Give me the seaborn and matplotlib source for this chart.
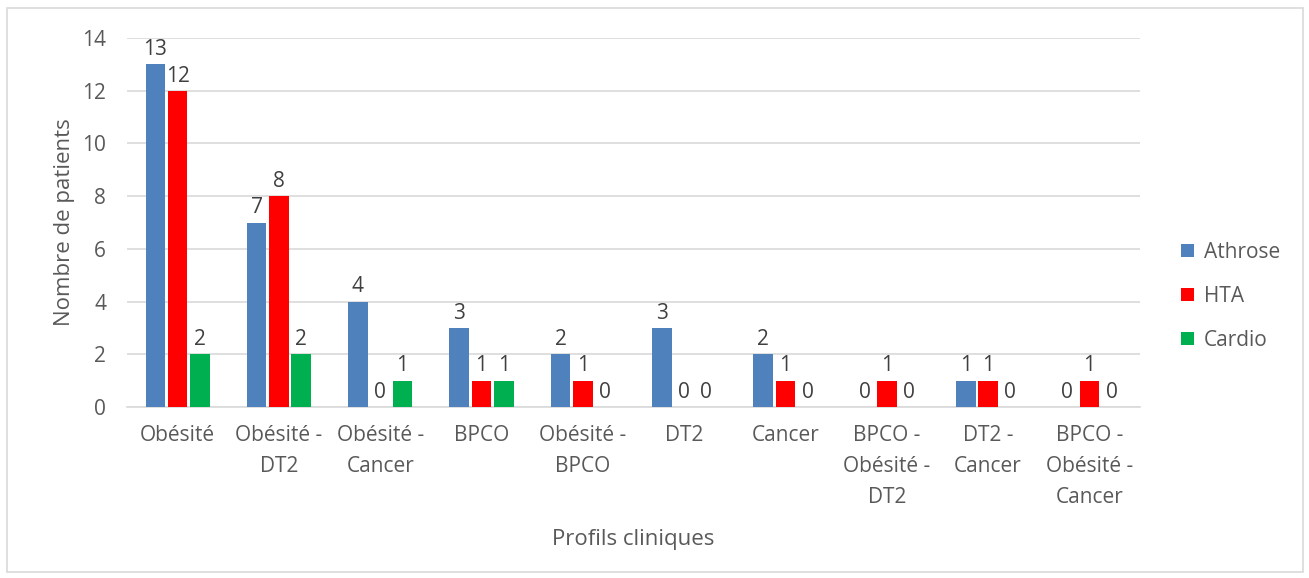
import matplotlib
matplotlib.use("Agg")
import matplotlib.pyplot as plt
import seaborn as sns
import pandas as pd
from matplotlib.patches import Rectangle

categories = ["Obésité", "Obésité -\nDT2", "Obésité -\nCancer", "BPCO", "Obésité -\nBPCO",
              "DT2", "Cancer", "BPCO -\nObésité -\nDT2", "DT2 -\nCancer", "BPCO -\nObésité -\nCancer"]
athrose = [13, 7, 4, 3, 2, 3, 2, 0, 1, 0]
hta = [12, 8, 0, 1, 1, 0, 1, 1, 1, 1]
cardio = [2, 2, 1, 1, 0, 0, 0, 0, 0, 0]
series_names = ["Athrose", "HTA", "Cardio"]
colors = ["#4f81bd", "#ff0000", "#00b050"]

rows = []
for name, vals in zip(series_names, [athrose, hta, cardio]):
    for c, v in zip(categories, vals):
        rows.append({"Profil": c, "Série": name, "Valeur": v})
df = pd.DataFrame(rows)

sns.set_theme(style="white")
plt.rcParams["font.family"] = ["Open Sans", "DejaVu Sans"]
txt = "#595959"

fig = plt.figure(figsize=(13.09, 5.78), dpi=100)
ax = fig.add_axes([127/1309, 1 - 407/578, (1140-127)/1309, (407-38)/578])

sns.barplot(data=df, x="Profil", y="Valeur", hue="Série", order=categories,
            hue_order=series_names, palette=colors, width=0.66, gap=0.12, ax=ax,
            linewidth=0, saturation=1, legend=True, zorder=3)

ax.set_ylim(0, 14)
ax.set_xlim(-0.5, len(categories) - 0.5)
ax.set_yticks(range(0, 15, 2))
ax.yaxis.grid(True, color="#d9d9d9", linewidth=1.2, zorder=0)
ax.set_axisbelow(True)
for s in ["top", "right", "left"]:
    ax.spines[s].set_visible(False)
ax.spines["bottom"].set_color("#d9d9d9")
ax.spines["bottom"].set_linewidth(1.2)
ax.tick_params(axis="both", length=0, labelsize=15, colors=txt)
ax.tick_params(axis="x", pad=13)
ax.tick_params(axis="y", pad=15)
for t in ax.get_xticklabels():
    t.set_linespacing(1.62)
ax.set_xlabel("Profils cliniques", fontsize=16, color=txt, labelpad=15)
ax.set_ylabel("Nombre de patients", fontsize=16, color=txt, labelpad=5)

for cont in ax.containers:
    ax.bar_label(cont, fmt="%d", fontsize=15, color="#404040", padding=3)

handles, labels = ax.get_legend_handles_labels()
ax.legend(handles, labels, loc="center left", bbox_to_anchor=(1.022, 0.30), frameon=False,
          fontsize=15, labelcolor=txt, handlelength=0.6, handleheight=0.6,
          labelspacing=1.1, handletextpad=0.5)

fig.patches.append(Rectangle((7/1309, 6/578), 1296/1309, 564/578, transform=fig.transFigure,
                             fill=False, edgecolor="#d9d9d9", linewidth=1.2))

fig.savefig("out.png", dpi=100, facecolor="white")
